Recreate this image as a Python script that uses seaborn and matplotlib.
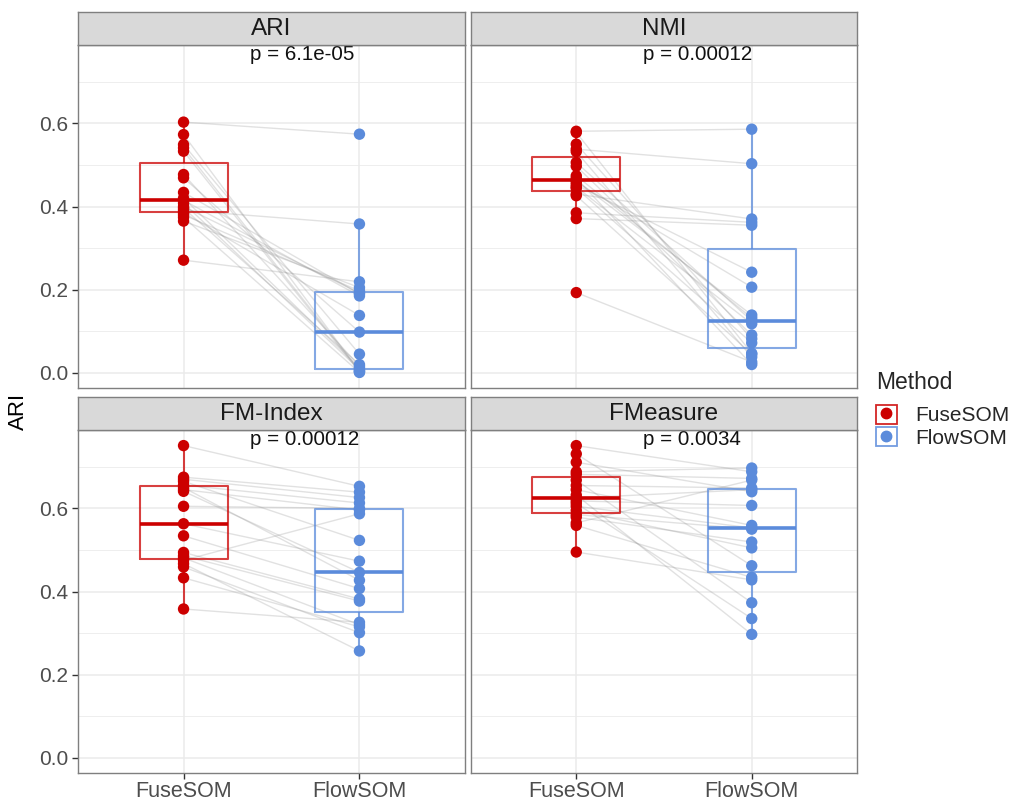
import numpy as np
import pandas as pd
import matplotlib
matplotlib.use("Agg")
import matplotlib.pyplot as plt
from matplotlib.lines import Line2D
from matplotlib.patches import Rectangle
from matplotlib.ticker import MultipleLocator, FormatStrFormatter
import seaborn as sns

# ---- data -------------------------------------------------------------
metrics = ["ARI", "NMI", "FM-Index", "FMeasure"]
methods = ["FuseSOM", "FlowSOM"]
p_labels = ["p = 6.1e-05", "p = 0.00012", "p = 0.00012", "p = 0.0034"]

ari_fusesom = [0.603, 0.573, 0.549, 0.541, 0.533, 0.477, 0.469, 0.434, 0.420, 0.415,
               0.408, 0.400, 0.396, 0.391, 0.385, 0.380, 0.374, 0.365, 0.271]
ari_flowsom = [0.574, 0.004, 0.045, 0.005, 0.002, 0.016, 0.098, 0.190, 0.012, 0.185,
               0.008, 0.192, 0.020, 0.358, 0.138, 0.197, 0.001, 0.205, 0.219]

nmi_fusesom = [0.581, 0.578, 0.550, 0.538, 0.532, 0.506, 0.497, 0.474, 0.468, 0.463,
               0.458, 0.452, 0.447, 0.444, 0.430, 0.426, 0.385, 0.371, 0.193]
nmi_flowsom = [0.586, 0.047, 0.082, 0.503, 0.038, 0.125, 0.091, 0.132, 0.020, 0.139,
               0.206, 0.242, 0.118, 0.072, 0.370, 0.045, 0.362, 0.355, 0.026]

fmi_fusesom = [0.751, 0.675, 0.670, 0.665, 0.656, 0.650, 0.645, 0.641, 0.605, 0.563,
               0.534, 0.494, 0.486, 0.481, 0.475, 0.467, 0.459, 0.433, 0.358]
fmi_flowsom = [0.653, 0.639, 0.626, 0.523, 0.613, 0.427, 0.596, 0.446, 0.600, 0.473,
               0.407, 0.382, 0.377, 0.320, 0.587, 0.257, 0.301, 0.315, 0.326]

fm_fusesom = [0.751, 0.731, 0.711, 0.688, 0.682, 0.668, 0.655, 0.645, 0.632, 0.625,
              0.618, 0.612, 0.605, 0.595, 0.585, 0.579, 0.565, 0.559, 0.495]
fm_flowsom = [0.688, 0.462, 0.640, 0.697, 0.672, 0.373, 0.649, 0.559, 0.297, 0.645,
              0.607, 0.335, 0.553, 0.505, 0.550, 0.519, 0.668, 0.434, 0.428]

series = {
    "ARI": (ari_fusesom, ari_flowsom),
    "NMI": (nmi_fusesom, nmi_flowsom),
    "FM-Index": (fmi_fusesom, fmi_flowsom),
    "FMeasure": (fm_fusesom, fm_flowsom),
}

rows = []
for metric, (fuse, flow) in series.items():
    for i, (a, b) in enumerate(zip(fuse, flow)):
        rows.append((metric, f"D{i + 1}", "FuseSOM", a))
        rows.append((metric, f"D{i + 1}", "FlowSOM", b))
df = pd.DataFrame(rows, columns=["Metric", "Dataset", "Method", "Score"])

palette = {"FuseSOM": "#CC0000", "FlowSOM": "#5B8BDB"}

# ---- styling ----------------------------------------------------------
sns.set_theme(style="white")
plt.rcParams["font.family"] = ["Liberation Sans", "DejaVu Sans"]

W, H = 1016, 801
fig = plt.figure(figsize=(W / 100, H / 100), dpi=100)

# panel rectangles in pixels: left, top, right, bottom
panels = {
    "ARI": (78, 45, 465, 388),
    "NMI": (471, 45, 857, 388),
    "FM-Index": (78, 430, 465, 773),
    "FMeasure": (471, 430, 857, 773),
}
strip_h = 33
border = "#7f7f7f"
grid_c = "#EBEBEB"
tick_c = "#4D4D4D"

lo, hi = df["Score"].min(), df["Score"].max()
pad = 0.05 * (hi - lo)
ylim = (lo - pad, hi + pad)

for k, metric in enumerate(metrics):
    l, t, r, b = panels[metric]
    ax = fig.add_axes([l / W, 1 - b / H, (r - l) / W, (b - t) / H])
    sub = df[df["Metric"] == metric]

    sns.boxplot(data=sub, x="Method", y="Score", hue="Method", order=methods,
                hue_order=methods, palette=palette, fill=False, width=0.5,
                showcaps=False, showfliers=False, linewidth=1.5,
                boxprops={"alpha": 0.75}, whiskerprops={"alpha": 0.75},
                medianprops={"linewidth": 2.6}, legend=False, ax=ax)
    sns.lineplot(data=sub, x="Method", y="Score", units="Dataset", estimator=None,
                 color="#8a8a8a", alpha=0.25, linewidth=1.0, legend=False, ax=ax,
                 zorder=1)
    sns.stripplot(data=sub, x="Method", y="Score", hue="Method", order=methods,
                  hue_order=methods, palette=palette, jitter=False, size=8.2,
                  linewidth=0, legend=False, ax=ax, zorder=3)

    ax.set_xlim(-0.6, 1.6)
    ax.set_ylim(*ylim)
    ax.set_xlabel("")
    ax.set_ylabel("")
    ax.set_facecolor("white")
    ax.yaxis.set_major_locator(MultipleLocator(0.2))
    ax.yaxis.set_minor_locator(MultipleLocator(0.1))
    ax.yaxis.set_major_formatter(FormatStrFormatter("%.1f"))
    ax.set_axisbelow(True)
    ax.grid(which="major", color=grid_c, linewidth=1.1)
    ax.grid(which="minor", axis="y", color=grid_c, linewidth=0.6)
    for s in ax.spines.values():
        s.set_color(border)
        s.set_linewidth(1.0)

    left_col = metric in ("ARI", "FM-Index")
    bottom_row = metric in ("FM-Index", "FMeasure")
    ax.tick_params(axis="y", which="major", left=left_col, labelleft=left_col,
                   length=4, width=1, color="#333333", labelsize=15, labelcolor=tick_c,
                   pad=3)
    ax.tick_params(axis="y", which="minor", left=False)
    ax.tick_params(axis="x", bottom=bottom_row, labelbottom=bottom_row, length=4,
                   width=1, color="#333333", labelsize=15.5, labelcolor=tick_c, pad=2)

    ax.text(0.38, 0.765, p_labels[k], ha="left", va="center", fontsize=14.8,
            color="#111111")

    # facet strip
    sax = fig.add_axes([l / W, 1 - t / H, (r - l) / W, strip_h / H])
    sax.set_facecolor("#D9D9D9")
    sax.set_xticks([])
    sax.set_yticks([])
    for s in sax.spines.values():
        s.set_color(border)
        s.set_linewidth(1.0)
    sax.text(0.5, 0.47, metric, ha="center", va="center", fontsize=17.5,
             color="#1A1A1A", transform=sax.transAxes)

fig.text(18 / W, 1 - 411 / H, "ARI", rotation=90, ha="center", va="center",
         fontsize=16, color="black")

handles = []
for m in methods:
    c = palette[m]
    box = Rectangle((0, 0), 1, 1, facecolor="white", edgecolor=c, linewidth=1.3,
                    alpha=0.85)
    dot = Line2D([], [], marker="o", color=c, linestyle="none", markersize=7.5)
    handles.append((box, dot))
leg = fig.legend(handles, methods, title="Method", loc="upper left",
                 bbox_to_anchor=(857 / W, 1 - 352 / H), frameon=False,
                 fontsize=15, title_fontsize=16.5, handlelength=1.0, handleheight=1.0,
                 handletextpad=0.9, labelspacing=0.1, alignment="left")
leg._legend_box.sep = 8

fig.savefig("out.png", dpi=100)
